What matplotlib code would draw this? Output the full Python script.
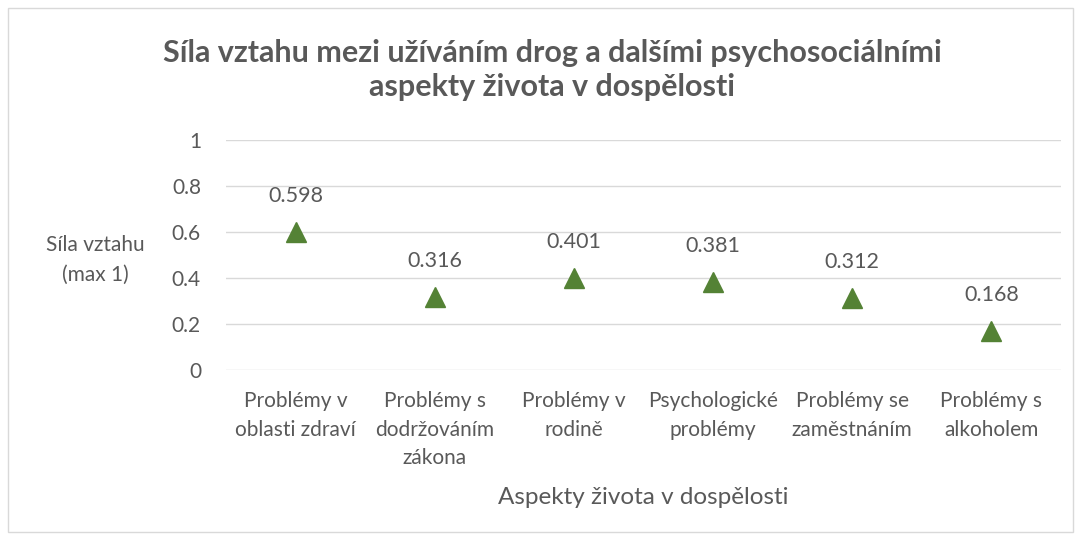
import matplotlib.pyplot as plt
from matplotlib.patches import Rectangle

kategorie = ['Problémy v\noblasti zdraví', 'Problémy s\ndodržováním\nzákona',
             'Problémy v\nrodině', 'Psychologické\nproblémy',
             'Problémy se\nzaměstnáním', 'Problémy s\nalkoholem']
hodnoty = [0.598, 0.316, 0.401, 0.381, 0.312, 0.168]
yticky = [0, 0.2, 0.4, 0.6, 0.8, 1]
yticky_popisky = ['0', '0.2', '0.4', '0.6', '0.8', '1']

plt.rcParams['font.family'] = ['Lato', 'DejaVu Sans']
seda = '#595959'

fig = plt.figure(figsize=(10.81, 5.40), dpi=100)
fig.patches.append(Rectangle((8 / 1081, 8 / 540), 1065 / 1081, 524 / 540,
                             transform=fig.transFigure, fill=False,
                             edgecolor='#d9d9d9', linewidth=1))

ax = fig.add_axes([226 / 1081, 1 - 370 / 540, 835 / 1081, 230 / 540])
x = range(len(kategorie))
ax.plot(x, hodnoty, linestyle='none', marker='^', markersize=15,
        color='#548235', zorder=3)
for xi, h in zip(x, hodnoty):
    ax.annotate(f'{h:.3f}', (xi, h), xytext=(0, 26), textcoords='offset points',
                ha='center', va='center', fontsize=15.5, color=seda)

ax.set_xlim(-0.5, len(kategorie) - 0.5)
ax.set_ylim(0, 1)
ax.set_yticks(yticky)
ax.set_yticklabels(yticky_popisky)
ax.set_xticks(list(x))
ax.set_xticklabels(kategorie, linespacing=1.55)
ax.tick_params(axis='both', length=0, labelsize=15, labelcolor=seda)
ax.tick_params(axis='y', pad=18)
ax.tick_params(axis='x', pad=15)
ax.yaxis.grid(True, color='#d9d9d9', linewidth=1)
ax.set_axisbelow(True)
for s in ax.spines.values():
    s.set_visible(False)

fig.text(552 / 1081, 1 - 70 / 540,
         'Síla vztahu mezi užíváním drog a dalšími psychosociálními\naspekty života v dospělosti',
         ha='center', va='center', fontsize=22, fontweight='bold', color=seda,
         linespacing=1.3)
fig.text(95 / 1081, 1 - 260 / 540, 'Síla vztahu\n(max 1)', ha='center',
         va='center', fontsize=15, color=seda, linespacing=1.6)
fig.text(643 / 1081, 1 - 498 / 540, 'Aspekty života v dospělosti', ha='center',
         va='center', fontsize=17.5, color=seda)

fig.savefig('out.png', dpi=100)
